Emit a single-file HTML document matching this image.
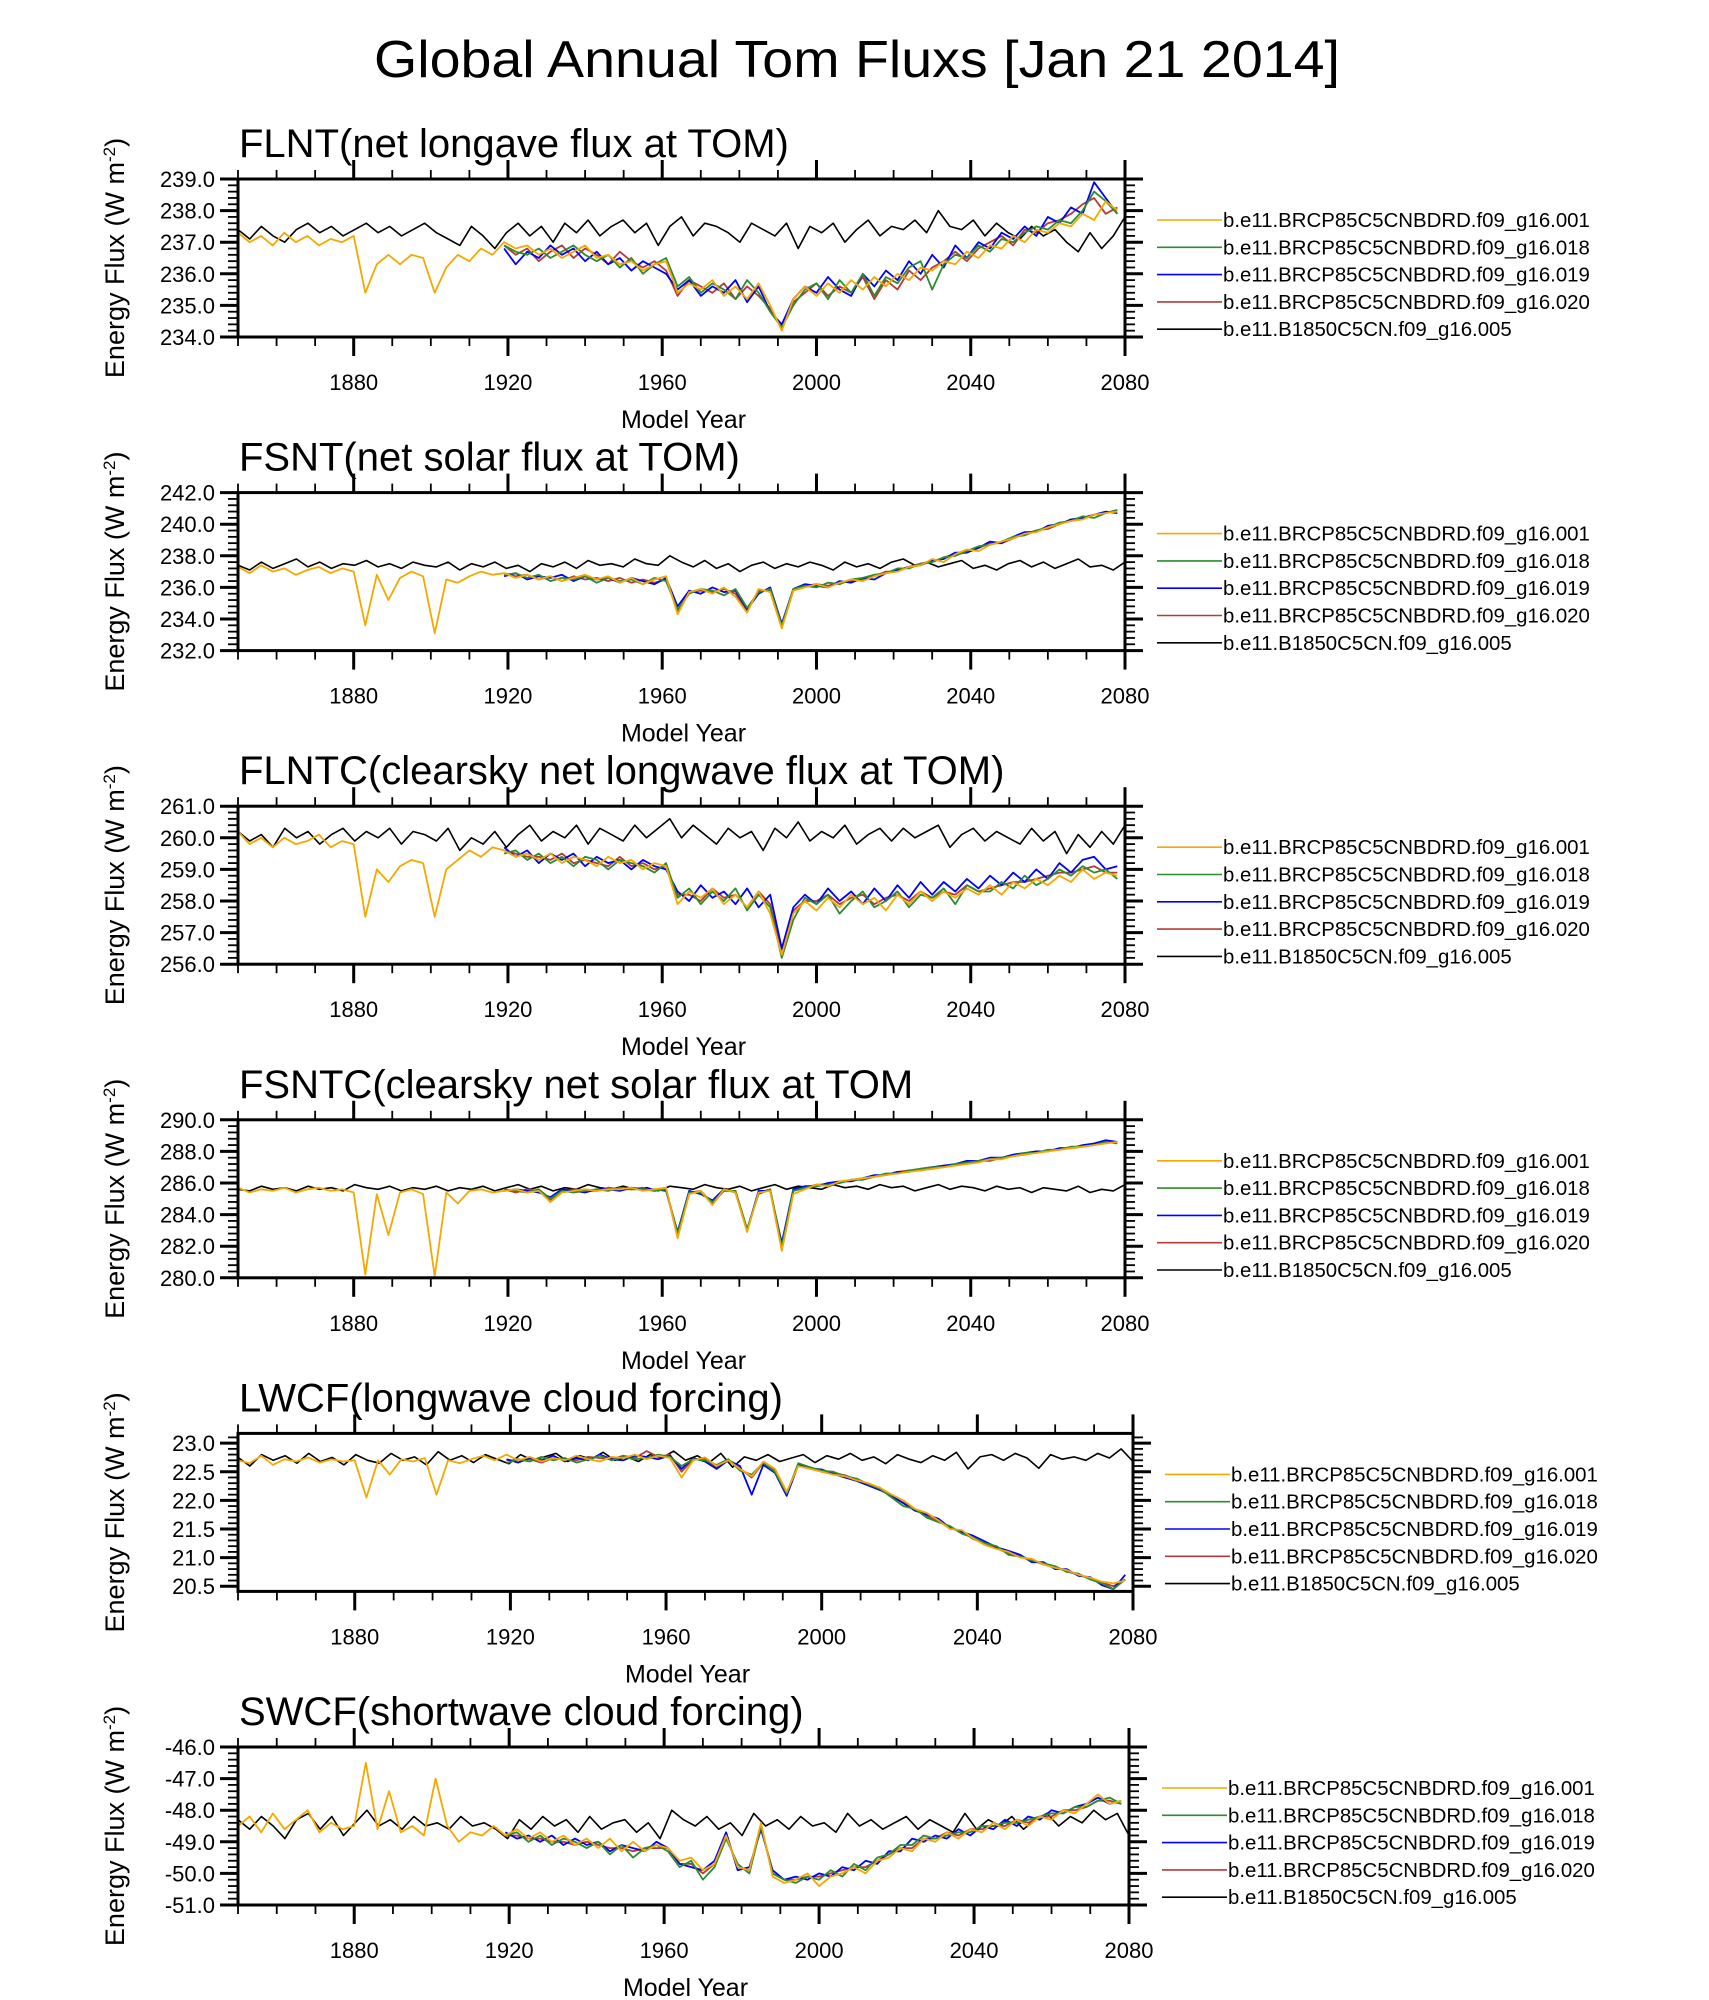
<!DOCTYPE html>
<html><head><meta charset="utf-8"><title>Global Annual Tom Fluxs</title>
<style>html,body{margin:0;padding:0;background:#fff}svg{display:block}text{font-family:"Liberation Sans",sans-serif}</style>
</head><body>
<svg id="chart" xmlns="http://www.w3.org/2000/svg" width="1709" height="2000" viewBox="0 0 1709 2000">
<rect width="1709" height="2000" fill="#fff"/>
<text x="857" y="77" font-size="52" text-anchor="middle" textLength="966" lengthAdjust="spacingAndGlyphs">Global Annual Tom Fluxs [Jan 21 2014]</text>
</svg>
<script>
const seriesNames=["b.e11.BRCP85C5CNBDRD.f09_g16.001","b.e11.BRCP85C5CNBDRD.f09_g16.018","b.e11.BRCP85C5CNBDRD.f09_g16.019","b.e11.BRCP85C5CNBDRD.f09_g16.020","b.e11.B1850C5CN.f09_g16.005"];
const xTickYears=[1880,1920,1960,2000,2040,2080];
const panelTitles=["FLNT(net longave flux at TOM)","FSNT(net solar flux at TOM)","FLNTC(clearsky net longwave flux at TOM)","FSNTC(clearsky net solar flux at TOM","LWCF(longwave cloud forcing)","SWCF(shortwave cloud forcing)"];
const yMins=[234,232,256,280,20.41,-51];
const yMaxs=[239,242,261,290,23.17,-46];
const yTickLabels=[["234.0","235.0","236.0","237.0","238.0","239.0"],["232.0","234.0","236.0","238.0","240.0","242.0"],["256.0","257.0","258.0","259.0","260.0","261.0"],["280.0","282.0","284.0","286.0","288.0","290.0"],["20.5","21.0","21.5","22.0","22.5","23.0"],["-51.0","-50.0","-49.0","-48.0","-47.0","-46.0"]];

const flntBlack=[237.4,237.1,237.5,237.2,237.0,237.4,237.6,237.3,237.5,237.2,237.4,237.6,237.3,237.5,237.2,237.4,237.6,237.3,237.1,236.9,237.5,237.2,236.8,237.3,237.6,237.2,237.5,237.0,237.6,237.3,237.7,237.2,237.5,237.7,237.3,237.6,236.9,237.5,237.8,237.2,237.6,237.5,237.3,237.0,237.6,237.4,237.2,237.6,236.8,237.5,237.3,237.6,237.0,237.4,237.7,237.2,237.5,237.4,237.7,237.3,238.0,237.5,237.4,237.7,237.2,237.6,237.3,237.1,237.5,237.2,237.4,237.0,236.7,237.3,236.8,237.2,237.8];
const flntOrange=[237.3,237.0,237.2,236.9,237.3,237.0,237.2,236.9,237.1,237.0,237.2,235.4,236.3,236.6,236.3,236.6,236.5,235.4,236.2,236.6,236.4,236.8,236.6,237.0,236.8,236.9,236.6,236.8,236.5,236.7,236.9,236.5,236.6,236.3,236.4,236.1,236.3,236.4,235.4,235.7,235.5,235.8,235.3,235.6,235.2,235.7,235.0,234.2,235.2,235.6,235.3,235.7,235.4,235.8,235.5,235.9,235.6,236.0,235.8,236.2,236.1,236.4,236.3,236.7,236.5,236.9,236.8,237.2,237.0,237.4,237.3,237.6,237.5,237.9,237.7,238.3,238.0];
const flntGreen=[236.9,236.7,236.6,236.8,236.5,236.7,236.9,236.6,236.4,236.6,236.2,236.5,236.0,236.3,236.5,235.6,235.9,235.4,235.7,235.5,235.2,235.8,235.4,234.8,234.3,235.0,235.5,235.7,235.2,235.8,235.4,236.0,235.3,235.9,235.7,236.2,236.4,235.5,236.3,236.6,236.5,236.9,236.7,237.1,237.0,237.3,237.5,237.4,237.7,237.6,238.0,238.6,238.3,237.9];
const flntBlue=[236.8,236.3,236.7,236.5,236.9,236.6,236.8,236.4,236.7,236.3,236.5,236.1,236.4,236.2,236.0,235.5,235.8,235.3,235.6,235.4,235.8,235.1,235.6,234.8,234.4,235.2,235.6,235.4,235.9,235.5,235.3,236.0,235.6,236.1,235.8,236.4,236.0,236.6,236.2,236.9,236.5,237.0,236.8,237.3,237.1,237.5,237.2,237.8,237.6,238.1,237.9,238.9,238.4,237.9];
const flntRed=[236.9,236.6,236.8,236.4,236.7,236.9,236.5,236.8,236.6,236.3,236.7,236.4,236.2,236.4,236.1,235.3,235.8,235.6,235.4,235.7,235.2,235.6,235.3,234.9,234.3,235.1,235.4,235.7,235.3,235.6,235.4,235.9,235.2,235.8,235.5,236.1,235.8,236.2,236.4,236.7,236.4,236.8,237.0,237.2,236.9,237.4,237.3,237.6,237.7,237.9,238.2,238.4,237.9,238.1];

const fsntBlack=[237.4,237.1,237.6,237.2,237.5,237.8,237.3,237.6,237.2,237.5,237.4,237.7,237.3,237.5,237.2,237.6,237.4,237.3,237.6,237.1,237.5,237.3,237.6,237.2,237.4,237.0,237.5,237.3,237.6,237.2,237.7,237.4,237.5,237.3,237.8,237.5,237.4,238.0,237.6,237.3,237.7,237.2,237.5,237.0,237.4,237.6,237.2,237.5,237.3,237.6,237.4,237.1,237.6,237.3,237.5,237.2,237.6,237.8,237.4,237.6,237.3,237.5,237.7,237.2,237.4,237.1,237.5,237.7,237.3,237.6,237.2,237.5,237.8,237.3,237.4,237.1,237.6];
const fsntOrange=[237.3,236.9,237.4,237.0,237.2,236.8,237.1,237.3,236.9,237.2,237.0,233.6,236.8,235.2,236.6,237.0,236.7,233.1,236.5,236.3,236.7,237.0,236.8,236.9,236.6,236.8,236.5,236.7,236.4,236.6,236.8,236.5,236.7,236.3,236.6,236.2,236.5,236.7,234.3,235.7,235.9,235.6,236.0,235.4,234.4,235.9,235.7,233.4,235.8,236.0,236.2,236.0,236.3,236.5,236.4,236.7,236.9,237.0,237.3,237.4,237.8,237.6,238.1,238.4,238.3,238.7,238.9,239.1,239.4,239.5,239.8,240.0,240.2,240.3,240.6,240.7,240.8];
const fsntGreen=[236.8,236.9,236.6,236.8,236.4,236.6,236.5,236.7,236.3,236.6,236.4,236.5,236.2,236.6,236.4,234.6,235.6,235.9,235.8,235.5,235.9,234.7,235.7,235.9,233.6,235.9,236.1,236.0,236.3,236.2,236.5,236.6,236.8,236.9,237.2,237.2,237.5,237.6,237.9,238.0,238.3,238.6,238.7,238.9,239.2,239.3,239.6,239.8,240.1,240.2,240.5,240.4,240.7,240.9];
const fsntBlue=[236.7,236.9,236.5,236.7,236.6,236.8,236.4,236.7,236.5,236.6,236.3,236.6,236.4,236.2,236.6,234.8,235.8,235.6,236.0,235.7,235.8,234.6,235.6,236.0,233.7,235.9,236.2,236.1,236.0,236.4,236.3,236.6,236.5,236.9,237.1,237.3,237.4,237.7,237.8,238.2,238.2,238.5,238.9,238.8,239.2,239.5,239.5,239.9,240.0,240.3,240.4,240.6,240.8,240.7];
const fsntRed=[236.9,236.7,236.8,236.5,236.7,236.4,236.7,236.5,236.6,236.4,236.6,236.3,236.5,236.3,236.5,234.5,235.7,235.8,235.7,235.9,235.6,234.5,235.8,235.8,233.5,235.8,236.1,236.2,236.1,236.3,236.4,236.5,236.7,237.0,237.0,237.3,237.5,237.6,237.9,238.1,238.2,238.5,238.8,238.8,239.1,239.4,239.6,239.7,240.0,240.3,240.4,240.6,240.7,240.9];

const flntcBlack=[260.2,259.9,260.1,259.7,260.3,260.0,260.2,259.8,260.1,260.3,259.9,260.2,260.0,260.3,259.8,260.2,260.1,259.9,260.3,259.6,260.0,259.8,260.2,259.7,260.1,260.4,259.9,260.2,260.0,260.4,259.8,260.3,260.1,259.9,260.4,260.0,260.3,260.6,260.0,260.4,260.1,259.8,260.3,260.0,260.2,259.6,260.3,260.0,260.5,259.9,260.2,260.0,260.4,259.8,260.1,260.3,259.9,260.3,260.0,260.2,260.4,259.7,260.1,260.3,259.9,260.2,260.0,259.8,260.3,259.9,260.2,259.5,260.1,259.7,260.2,259.8,260.4];
const flntcOrange=[260.2,259.8,260.0,259.7,260.0,259.8,259.9,260.1,259.7,259.9,259.8,257.5,259.0,258.6,259.1,259.3,259.2,257.5,259.0,259.3,259.6,259.4,259.7,259.6,259.4,259.5,259.3,259.5,259.2,259.4,259.3,259.1,259.4,259.2,259.3,259.0,259.2,259.1,257.9,258.3,258.1,258.4,257.9,258.2,257.8,258.3,257.6,256.3,257.6,258.0,257.7,258.1,257.8,258.2,257.9,258.1,257.7,258.2,257.9,258.3,258.0,258.3,258.1,258.4,258.2,258.5,258.2,258.6,258.4,258.7,258.5,258.8,258.6,259.0,258.7,258.9,258.8];
const flntcGreen=[259.5,259.6,259.3,259.5,259.2,259.4,259.1,259.4,259.3,259.0,259.3,259.2,259.1,258.9,259.2,258.1,258.4,257.9,258.3,258.0,258.4,257.7,258.2,257.8,256.2,257.4,258.1,257.9,258.2,257.6,258.0,258.3,257.8,258.0,258.3,257.8,258.2,258.1,258.4,257.9,258.5,258.3,258.3,258.6,258.4,258.8,258.5,258.7,259.0,258.8,259.1,258.9,259.0,258.7];
const flntcBlue=[259.7,259.4,259.6,259.2,259.5,259.3,259.5,259.1,259.4,259.2,259.3,259.0,259.3,259.1,259.0,258.3,258.0,258.5,258.1,258.3,257.9,258.4,257.8,258.2,256.5,257.8,258.2,257.9,258.4,258.0,258.3,257.9,258.4,258.0,258.5,258.1,258.6,258.2,258.6,258.3,258.7,258.4,258.8,258.5,258.9,258.6,259.0,258.7,259.2,258.9,259.3,259.4,259.0,259.1];
const flntcRed=[259.6,259.5,259.4,259.4,259.3,259.5,259.2,259.3,259.2,259.1,259.4,259.1,259.2,259.0,259.1,258.2,258.2,258.0,258.4,258.1,258.2,257.8,258.3,257.9,256.4,257.7,258.0,258.0,258.2,257.9,258.1,258.2,257.9,258.1,258.2,258.0,258.3,258.1,258.3,258.2,258.5,258.3,258.4,258.5,258.6,258.6,258.7,258.8,258.9,258.9,259.0,259.1,258.9,258.9];

const fsntcBlack=[285.6,285.5,285.8,285.6,285.7,285.5,285.8,285.6,285.7,285.5,285.9,285.7,285.6,285.8,285.5,285.7,285.6,285.8,285.5,285.7,285.6,285.8,285.5,285.7,285.9,285.6,285.8,285.5,285.7,285.6,285.9,285.7,285.6,285.8,285.6,285.7,285.5,285.8,285.7,285.6,285.9,285.7,285.6,285.8,285.5,285.7,285.9,285.6,285.8,285.7,285.6,285.9,285.7,285.8,285.6,285.9,285.7,285.8,285.5,285.7,285.9,285.6,285.8,285.7,285.5,285.8,285.6,285.7,285.4,285.7,285.6,285.5,285.8,285.4,285.6,285.5,285.9];
const fsntcOrange=[285.7,285.4,285.6,285.5,285.7,285.4,285.6,285.7,285.5,285.6,285.4,280.2,285.3,282.7,285.4,285.6,285.3,280.1,285.4,284.7,285.5,285.6,285.4,285.5,285.6,285.4,285.5,284.8,285.4,285.5,285.6,285.5,285.6,285.6,285.7,285.5,285.6,285.7,282.5,285.3,285.5,284.6,285.6,285.4,282.9,285.4,285.5,281.7,285.3,285.6,285.9,285.8,286.1,286.2,286.3,286.4,286.5,286.6,286.7,286.8,286.9,287.0,287.1,287.2,287.3,287.5,287.5,287.7,287.8,287.9,288.0,288.1,288.2,288.3,288.4,288.5,288.6];
const fsntcGreen=[285.6,285.5,285.4,285.6,285.0,285.5,285.4,285.5,285.6,285.5,285.7,285.6,285.6,285.5,285.6,282.8,285.4,285.4,284.8,285.5,285.5,283.1,285.3,285.6,282.0,285.5,285.7,285.8,285.9,286.0,286.2,286.2,286.4,286.6,286.6,286.8,286.9,287.0,287.0,287.2,287.3,287.4,287.5,287.6,287.7,287.9,287.9,288.1,288.1,288.3,288.3,288.4,288.6,288.5];
const fsntcBlue=[285.5,285.6,285.5,285.4,285.1,285.6,285.5,285.4,285.6,285.6,285.5,285.7,285.6,285.6,285.5,282.9,285.5,285.3,284.9,285.6,285.4,283.0,285.5,285.5,282.2,285.6,285.8,285.8,286.0,286.1,286.1,286.3,286.5,286.5,286.7,286.7,286.9,287.0,287.1,287.2,287.4,287.4,287.6,287.6,287.8,287.9,288.0,288.0,288.2,288.2,288.4,288.5,288.7,288.6];
const fsntcRed=[285.6,285.4,285.6,285.5,284.9,285.5,285.6,285.5,285.5,285.7,285.6,285.6,285.7,285.5,285.6,282.6,285.4,285.5,284.7,285.5,285.5,283.0,285.4,285.6,281.9,285.5,285.7,285.9,285.9,286.0,286.2,286.3,286.4,286.5,286.7,286.8,286.8,286.9,287.1,287.1,287.3,287.4,287.4,287.6,287.7,287.8,288.0,288.0,288.2,288.2,288.3,288.5,288.6,288.6];

const lwcfBlack=[22.75,22.60,22.80,22.70,22.78,22.65,22.82,22.68,22.75,22.62,22.80,22.70,22.65,22.82,22.70,22.76,22.62,22.85,22.70,22.78,22.66,22.80,22.72,22.64,22.80,22.70,22.76,22.82,22.68,22.78,22.72,22.84,22.70,22.76,22.68,22.80,22.74,22.86,22.70,22.78,22.66,22.82,22.58,22.76,22.70,22.80,22.68,22.74,22.80,22.66,22.78,22.72,22.82,22.70,22.76,22.64,22.80,22.72,22.66,22.78,22.70,22.84,22.55,22.76,22.80,22.70,22.82,22.74,22.56,22.80,22.72,22.76,22.70,22.82,22.74,22.90,22.68];
const lwcfOrange=[22.70,22.65,22.78,22.62,22.72,22.68,22.75,22.66,22.72,22.68,22.70,22.05,22.70,22.45,22.72,22.68,22.74,22.10,22.70,22.65,22.72,22.78,22.70,22.80,22.70,22.76,22.68,22.74,22.70,22.78,22.72,22.68,22.76,22.74,22.80,22.72,22.78,22.74,22.40,22.70,22.75,22.60,22.70,22.55,22.42,22.68,22.55,22.15,22.60,22.55,22.50,22.45,22.42,22.35,22.30,22.22,22.10,22.00,21.85,21.78,21.65,21.50,21.48,21.33,21.22,21.15,21.10,21.00,20.98,20.88,20.82,20.78,20.70,20.65,20.58,20.55,20.60];
const lwcfGreen=[22.65,22.72,22.68,22.76,22.70,22.74,22.66,22.72,22.78,22.70,22.76,22.72,22.74,22.80,22.76,22.60,22.72,22.70,22.62,22.72,22.52,22.45,22.66,22.50,22.12,22.65,22.58,22.52,22.50,22.42,22.38,22.28,22.20,22.05,21.90,21.85,21.70,21.62,21.55,21.42,21.35,21.25,21.20,21.05,21.02,20.95,20.90,20.85,20.75,20.72,20.62,20.55,20.45,20.62];
const lwcfBlue=[22.72,22.66,22.74,22.70,22.78,22.68,22.74,22.70,22.80,22.72,22.70,22.78,22.76,22.72,22.78,22.55,22.74,22.68,22.55,22.70,22.60,22.10,22.62,22.48,22.08,22.62,22.56,22.54,22.46,22.40,22.34,22.26,22.18,22.08,21.95,21.82,21.75,21.68,21.52,21.45,21.38,21.28,21.18,21.12,21.05,20.92,20.92,20.80,20.80,20.68,20.66,20.52,20.45,20.70];
const lwcfRed=[22.70,22.70,22.72,22.66,22.74,22.72,22.70,22.76,22.74,22.72,22.78,22.74,22.86,22.76,22.80,22.50,22.72,22.72,22.58,22.70,22.56,22.40,22.66,22.52,22.10,22.62,22.58,22.50,22.48,22.44,22.36,22.28,22.22,22.06,21.96,21.84,21.72,21.64,21.52,21.46,21.32,21.26,21.16,21.08,21.02,20.96,20.88,20.84,20.76,20.70,20.64,20.56,20.50,20.62];

const swcfBlack=[-48.3,-48.6,-48.2,-48.5,-48.9,-48.3,-48.1,-48.6,-48.2,-48.8,-48.4,-48.0,-48.5,-48.3,-48.6,-48.2,-48.5,-48.4,-48.6,-48.2,-48.5,-48.4,-48.6,-48.9,-48.3,-48.6,-48.2,-48.5,-48.3,-48.7,-48.2,-48.6,-48.4,-48.3,-48.7,-48.4,-48.9,-48.0,-48.3,-48.5,-48.2,-48.6,-48.4,-48.8,-48.1,-48.5,-48.3,-48.6,-48.2,-48.5,-48.4,-48.7,-48.1,-48.5,-48.3,-48.6,-48.4,-48.2,-48.6,-48.3,-48.5,-48.7,-48.1,-48.6,-48.3,-48.5,-48.2,-48.6,-48.3,-48.1,-48.5,-48.2,-48.4,-48.0,-48.3,-48.1,-48.8];
const swcfOrange=[-48.5,-48.2,-48.7,-48.1,-48.6,-48.3,-48.0,-48.7,-48.4,-48.6,-48.5,-46.5,-48.6,-47.4,-48.7,-48.5,-48.8,-47.0,-48.5,-49.0,-48.7,-48.8,-48.5,-48.8,-48.6,-48.9,-48.7,-49.0,-48.8,-49.1,-48.9,-49.2,-48.9,-49.3,-49.0,-49.3,-49.1,-49.2,-49.6,-49.5,-49.9,-49.7,-48.8,-49.8,-49.9,-48.4,-50.1,-50.3,-50.2,-50.0,-50.4,-50.1,-50.0,-49.8,-50.0,-49.6,-49.5,-49.2,-49.3,-48.9,-49.0,-48.7,-48.9,-48.6,-48.7,-48.4,-48.6,-48.3,-48.5,-48.2,-48.3,-48.0,-48.1,-47.8,-47.5,-47.8,-47.7];
const swcfGreen=[-48.8,-48.7,-49.0,-48.8,-49.1,-48.9,-49.0,-49.2,-49.0,-49.4,-49.1,-49.5,-49.2,-49.1,-49.3,-49.8,-49.6,-50.2,-49.8,-48.9,-49.7,-50.0,-48.5,-50.0,-50.2,-50.3,-50.1,-50.2,-49.9,-50.1,-49.7,-49.9,-49.5,-49.4,-49.1,-49.1,-48.8,-48.9,-48.8,-48.7,-48.7,-48.5,-48.5,-48.4,-48.4,-48.3,-48.2,-48.1,-48.1,-47.9,-47.9,-47.7,-47.6,-47.8];
const swcfBlue=[-48.7,-48.9,-48.8,-49.0,-48.8,-49.1,-48.9,-49.1,-49.0,-49.3,-49.1,-49.2,-49.3,-49.0,-49.2,-49.7,-49.8,-49.9,-49.6,-48.7,-49.9,-49.8,-48.6,-49.9,-50.2,-50.1,-50.2,-50.0,-50.1,-49.8,-49.9,-49.6,-49.7,-49.3,-49.3,-48.9,-49.0,-48.8,-48.9,-48.6,-48.8,-48.5,-48.6,-48.3,-48.5,-48.2,-48.3,-48.0,-48.1,-47.9,-47.8,-47.6,-47.8,-47.7];
const swcfRed=[-48.8,-48.8,-48.9,-48.9,-49.0,-49.0,-49.1,-49.0,-49.1,-49.2,-49.2,-49.3,-49.2,-49.2,-49.2,-49.7,-49.7,-50.0,-49.7,-48.8,-49.8,-49.9,-48.5,-50.0,-50.2,-50.2,-50.1,-50.1,-50.0,-49.9,-49.8,-49.8,-49.6,-49.4,-49.2,-49.2,-48.9,-48.9,-48.7,-48.8,-48.6,-48.6,-48.5,-48.5,-48.3,-48.4,-48.2,-48.2,-48.0,-48.0,-47.9,-47.7,-47.7,-47.8];

const panelSeries=[
 [flntOrange,flntGreen,flntBlue,flntRed,flntBlack],
 [fsntOrange,fsntGreen,fsntBlue,fsntRed,fsntBlack],
 [flntcOrange,flntcGreen,flntcBlue,flntcRed,flntcBlack],
 [fsntcOrange,fsntcGreen,fsntcBlue,fsntcRed,fsntcBlack],
 [lwcfOrange,lwcfGreen,lwcfBlue,lwcfRed,lwcfBlack],
 [swcfOrange,swcfGreen,swcfBlue,swcfRed,swcfBlack]];
const seriesStart=[1850,1919,1919,1919,1850];

const NS="http://www.w3.org/2000/svg";
const svg=document.getElementById('chart');
const colors=["#f5a800","#2e8b2e","#0000ff","#b53a3a","#000000"];
const rights=[1125,1125,1125,1125,1133,1129];
const legendShift=[0,0,0,0,8,5];
const X0=238,YEAR0=1850,YEAR1=2080,PH=158;
function mk(tag,attrs,parent){const e=document.createElementNS(NS,tag);for(const k in attrs)e.setAttribute(k,attrs[k]);(parent||svg).appendChild(e);return e;}

for(let p=0;p<6;p++){
  const top=179+p*313.6, bot=top+PH, R=rights[p];
  const g=mk('g',{});
  
  
  const xs=y=>X0+(y-YEAR0)/(YEAR1-YEAR0)*(R-X0);
  const ys=v=>bot-(v-yMins[p])/(yMaxs[p]-yMins[p])*PH;
  const t=mk('text',{x:X0+1,y:top-22,'font-size':40},g);t.textContent=panelTitles[p];
  
  
  const labs=yTickLabels[p];
  const v0=parseFloat(labs[0]),v1=parseFloat(labs[labs.length-1]);
  const step=(v1-v0)/(labs.length-1), minor=step/5;
  for(let k=-5;k<=(labs.length-1)*5+5;k++){
    const v=v0+k*minor; if(v<yMins[p]-1e-6||v>yMaxs[p]+1e-6)continue;
    const yy=ys(v), major=k%5===0, L=major?18:10;
    mk('line',{x1:X0-L,y1:yy,x2:X0,y2:yy,stroke:'#000','stroke-width':major?3:1.8},g);
    mk('line',{x1:R,y1:yy,x2:R+L,y2:yy,stroke:'#000','stroke-width':major?3:1.8},g);
  }
  labs.forEach((s,i)=>{const yy=ys(parseFloat(s));const tt=mk('text',{x:X0-23,y:yy+8,'font-size':22,'text-anchor':'end'},g);tt.textContent=s;
    
    });
  for(let yr=1850;yr<=2080;yr+=10){
    const xx=xs(yr), major=(yr-1880)%40===0, L=major?19:9;
    mk('line',{x1:xx,y1:top,x2:xx,y2:top-L,stroke:'#000','stroke-width':major?3:1.8},g);
    mk('line',{x1:xx,y1:bot,x2:xx,y2:bot+L,stroke:'#000','stroke-width':major?3:1.8},g);
  }
  xTickYears.forEach(yr=>{const tt=mk('text',{x:xs(yr),y:bot+53,'font-size':22,'text-anchor':'middle'},g);tt.textContent=yr;
    
    });
  const xt=mk('text',{x:(X0+R)/2+2,y:bot+91,'font-size':25,'text-anchor':'middle'},g);xt.textContent='Model Year';
  
  
  const cy=(top+bot)/2;
  const yt=mk('text',{x:124,y:cy,'font-size':27,'text-anchor':'middle',transform:`rotate(-90 124 ${cy})`},g);
  yt.innerHTML='Energy Flux (W m<tspan baseline-shift="super" font-size="17">-2</tspan>)';
  
  
  const clipId='clip'+p;
  const cp=mk('clipPath',{id:clipId},g);mk('rect',{x:X0,y:top-3,width:R-X0,height:PH+6},cp);
  for(let s=4;s>=0;s--){
    const arr=panelSeries[p][s]; const st=seriesStart[s];
    const pts=arr.map((v,i)=>{const yr=(s===4)?YEAR0+i*(YEAR1-YEAR0)/(arr.length-1):st+3*i;return xs(yr).toFixed(1)+','+ys(v).toFixed(1);}).join(' ');
    const pl=mk('polyline',{points:pts,fill:'none',stroke:colors[s],'stroke-width':s===4?1.6:1.8,'stroke-linejoin':'round','clip-path':`url(#${clipId})`},g);
    
    
  }
  const fr=mk('rect',{x:X0,y:top,width:R-X0,height:PH,fill:'none',stroke:'#000','stroke-width':3},g);
  
  
  const lx=1157+legendShift[p];
  seriesNames.forEach((n,i)=>{const yy=top+41+i*27.3;
    const lg=mk('g',{},g);
    
    
    mk('line',{x1:lx,y1:yy,x2:lx+65,y2:yy,stroke:colors[i],'stroke-width':1.6},lg);
    const tt=mk('text',{x:lx+66,y:yy+7,'font-size':20.4},lg);tt.textContent=n;});
}
</script>
</body></html>
